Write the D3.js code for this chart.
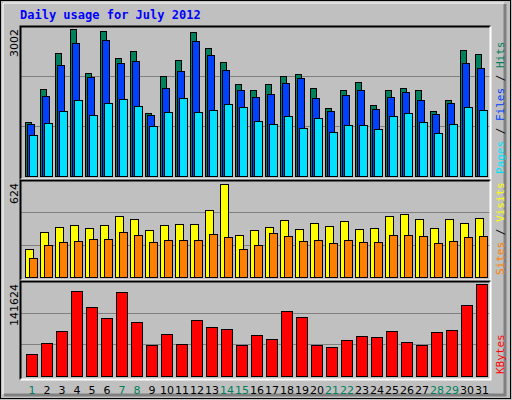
<!DOCTYPE html>
<html><head><meta charset="utf-8">
<script src="https://cdn.jsdelivr.net/npm/d3@7"></script>
<style>body{margin:0;background:#fff}</style>
</head><body><div id="chart"></div>
<script>
var days = d3.range(1, 32);
var weekendDays = [1, 7, 8, 14, 15, 21, 22, 28, 29];
var hits = [1103,1777,2512,3002,2103,2961,2410,2553,1287,2042,2369,2941,2614,2328,1879,1756,1879,2042,2083,1797,1389,1756,1920,1450,1756,1797,1756,1327,1552,2573,2491];
var files = [1062,1634,2267,2716,2022,2777,2308,2348,1246,1797,2144,2757,2471,2165,1756,1613,1674,1899,2001,1593,1327,1654,1756,1368,1613,1715,1552,1266,1491,2308,2205];
var pages = [837,1082,1327,1552,1246,1491,1572,1429,1021,1307,1593,1307,1348,1470,1409,1123,1062,1225,980,1184,899,1041,1041,960,1225,1287,1103,878,1062,1409,1348];
var visits = [188,302,336,349,329,349,409,389,315,349,356,356,450,624,282,315,336,382,322,362,342,376,322,329,409,423,389,329,389,362,396];
var sites = [128,215,235,242,255,255,302,282,235,248,248,248,289,268,188,215,295,275,242,248,228,248,235,235,282,282,275,228,242,268,275];
var kbytes = [33860,50790,69260,130820,106190,89260,129280,83110,47710,64640,49250,86180,75410,72330,47710,63100,56940,100040,90800,47710,44630,55400,61560,60020,69260,52330,47710,67720,70790,109270,141624];

var svg = d3.select('#chart').append('svg').attr('width', 512).attr('height', 400);
svg.append('rect').attr('width', 512).attr('height', 400).attr('fill', '#c0c0c0');
// frame
svg.append('rect').attr('x', 0.5).attr('y', 0.5).attr('width', 510).attr('height', 398).attr('fill', 'none').attr('stroke', '#000');
svg.append('path').attr('d', 'M505,4V395H4').attr('fill', 'none').attr('stroke', '#808080').attr('stroke-width', 3);
svg.append('path').attr('d', 'M3,394V3H504').attr('fill', 'none').attr('stroke', '#fff');

svg.append('text').attr('x', 20).attr('y', 19).text('Daily usage for July 2012')
  .attr('font-family', 'DejaVu Sans Mono').attr('font-weight', 'bold').attr('font-size', 12).attr('fill', '#0000ff');

var x = d3.scaleBand().domain(days).range([24, 489]);

// panel: box, grid, y label, bars
function panel (top, bottom, maxVal, maxPx, label, series, legend) {
  svg.append('rect').attr('x', 20).attr('y', top).attr('width', 471).attr('height', bottom - top).attr('fill', '#c0c0c0');
  var base = bottom - 4;
  var y = d3.scaleLinear().domain([0, maxVal]).range([base, base - maxPx]);
  var unit = (base - top) / 3;
  [1, 2].forEach(function (k) {
    svg.append('line').attr('x1', 21).attr('x2', 490).attr('y1', Math.round(base - unit * k) + 0.5).attr('y2', Math.round(base - unit * k) + 0.5).attr('stroke', '#808080');
  });
  series.forEach(function (s) {
    svg.append('g').selectAll('rect').data(s.values).join('rect')
      .attr('x', function (d, i) { return x(days[i]) + s.off + 0.5; })
      .attr('y', function (d) { return Math.round(y(d)) + 0.5; })
      .attr('width', s.w)
      .attr('height', function (d) { return Math.round(base - y(d)); })
      .attr('fill', s.color).attr('stroke', '#000');
  });
  svg.append('path').attr('d', 'M20.5,' + (bottom - 0.5) + 'V' + (top + 0.5) + 'H490.5').attr('fill', 'none').attr('stroke', '#000').attr('stroke-width', 2);
  svg.append('path').attr('d', 'M490.5,' + (top + 0.5) + 'V' + (bottom - 0.5) + 'H20.5').attr('fill', 'none').attr('stroke', '#fff').attr('stroke-width', 2);
  svg.append('text').attr('transform', 'translate(18,' + (top + 3) + ') rotate(-90)').attr('text-anchor', 'end')
    .attr('font-family', 'DejaVu Sans').attr('font-size', 11).text(label);
  var t = svg.append('text').attr('transform', 'translate(504,' + (bottom - 6) + ') rotate(-90)')
    .attr('font-family', 'DejaVu Sans Mono').attr('font-size', 11);
  legend.forEach(function (l, i) {
    if (i > 0) t.append('tspan').attr('fill', '#000').text(' / ');
    t.append('tspan').attr('fill', l.color).text(l.text);
  });
}

panel(26, 180, 3002, 147, '3002', [
  { values: hits, off: 1, w: 6, color: '#00805c' },
  { values: files, off: 3, w: 7, color: '#0040ff' },
  { values: pages, off: 5, w: 8, color: '#00e0ff' }
], [{ text: 'Pages', color: '#00e0ff' }, { text: 'Files', color: '#0040ff' }, { text: 'Hits', color: '#00805c' }]);

panel(180, 281, 624, 93, '624', [
  { values: visits, off: 1, w: 8, color: '#ffff00' },
  { values: sites, off: 5, w: 8, color: '#ff8000' }
], [{ text: 'Sites', color: '#ff8000' }, { text: 'Visits', color: '#ffff00' }]);

panel(281, 380, 141624, 92, '141624', [
  { values: kbytes, off: 2, w: 11, color: '#ff0000' }
], [{ text: 'KBytes', color: '#ff0000' }]);

svg.append('g').selectAll('text').data(days).join('text')
  .attr('x', function (d) { return x(d) + 8; }).attr('y', 394).attr('text-anchor', 'middle')
  .attr('font-family', 'DejaVu Sans').attr('font-size', 11)
  .attr('fill', function (d) { return weekendDays.indexOf(d) >= 0 ? '#00805c' : '#000'; })
  .text(function (d) { return d; });
</script></body></html>
